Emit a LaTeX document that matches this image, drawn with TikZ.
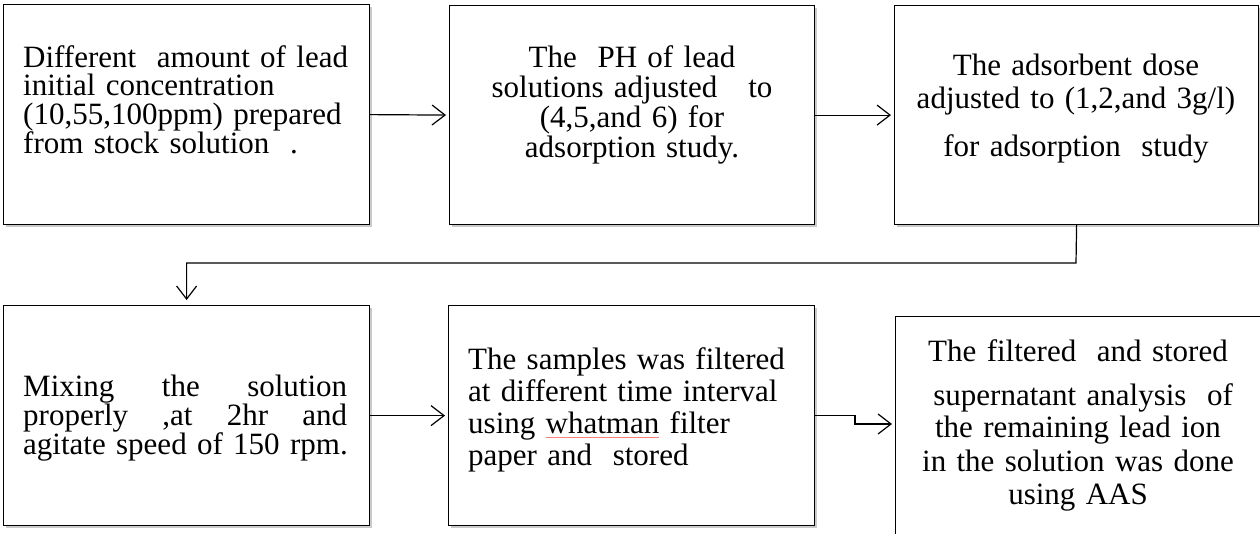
\documentclass[tikz,border=0pt]{standalone}
\usepackage{fontspec}
\setmainfont{Liberation Serif}
\usetikzlibrary{arrows.meta,shadows}
\newcommand\spellmark[1]{\setbox0\hbox{#1}\rlap{\color{red!50}\rule[-4pt]{\wd0}{0.8pt}}\box0\relax}
\newcommand\setfs[1]{\fontsize{31}{#1}\selectfont\lineskiplimit=-20pt\relax}
\begin{document}
\begin{tikzpicture}[x=1pt,y=-1pt,
  box/.style={draw=black, line width=1.2pt, fill=white, rectangle, inner sep=0pt, anchor=north west,
    drop shadow={shadow xshift=2pt, shadow yshift=-2pt, opacity=0.35, fill=black!60}},
  txt/.style={inner sep=0pt, font=\setfs{29},
    execute at begin node=\strut, execute at end node=\strut},
  arr/.style={line width=1.2pt, -{Straight Barb[length=13pt,width=20pt]}, shorten >=3pt}]
\useasboundingbox (0,0) rectangle (1260,533);
\clip (0,0) rectangle (1260,533);
% boxes
\node[box, minimum width=366, minimum height=220] (b1) at (3,4) {};
\node[box, minimum width=365, minimum height=219] (b2) at (449,5) {};
\node[box, minimum width=364, minimum height=219] (b3) at (894,5) {};
\node[box, minimum width=366, minimum height=220] (b4) at (3,305) {};
\node[box, minimum width=366, minimum height=220] (b5) at (448,305) {};
\node[box, minimum width=367, minimum height=250] (b6) at (895,316) {};
% texts
\node[txt, font=\setfs{28.7}, anchor=north west, text width=340, align=left] (t1) at (23,45)
  {Different\ \ amount of lead\\initial concentration\\(10,55,100ppm) prepared\\from stock solution\ \ .};
\node[txt, font=\setfs{30}, anchor=north, text width=360, align=center] (t2) at (632,45)
  {The\ \ PH of lead\\solutions adjusted\ \ \ to\\(4,5,and 6) for\\adsorption study.};
\node[txt, anchor=north, text width=360, align=center] (t3) at (1076,54)
  {The adsorbent dose\\[4pt]adjusted to (1,2,and 3g/l)\\[19pt]for adsorption\ \ study};
\node[txt, anchor=north west, text width=324, align=left] (t4) at (23,375)
  {Mixing\hfill the\hfill solution\\properly\hfill ,at\hfill 2hr\hfill and\\\mbox{agitate speed of 150 rpm.}};
\node[txt, font=\setfs{32}, anchor=north west, text width=350, align=left] (t5) at (468,347)
  {The samples was filtered\\at different time interval\\using \spellmark{whatman} filter\\paper and\ \ stored};
\node[txt, font=\setfs{33}, anchor=north, text width=380, align=center] (t6) at (1078,338)
  {The filtered\ \ and stored\\[11pt]\ supernatant analysis\ \ of\\[-1pt]the remaining lead ion\\[1pt]in the solution was done\\using AAS};
% connectors
\coordinate (m1) at (1076,263);
\coordinate (k) at (855,424);
\draw[arr] (b1.east) -- (b2.west);
\draw[arr] (b2.east) -- (b3.west);
\draw[arr, shorten >=5pt] (b3.south) -- (m1) -| (b4.north);
\draw[arr] (b4.east) -- (b5.west);
\draw[arr] (b5.east) -| (k) -- (k -| b6.west);
\end{tikzpicture}
\end{document}
